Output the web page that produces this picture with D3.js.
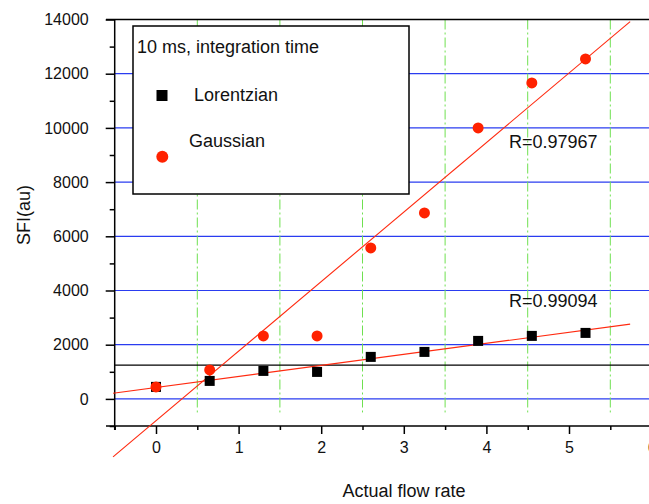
<!DOCTYPE html>
<html><head><meta charset="utf-8">
<script src="https://cdn.jsdelivr.net/npm/d3@7"></script>
<style>html,body{margin:0;padding:0;background:#fff;}svg{display:block;font-family:"Liberation Sans",Arial,sans-serif;}</style>
</head><body><svg id="c" width="649" height="504"></svg>
<script>
const flowRates = [0, 0.65, 1.3, 1.95, 2.6, 3.25, 3.9, 4.55, 5.2];
const lorentzian = [443, 664, 1033, 996, 1550, 1734, 2140, 2325, 2435];
const gaussian = [443, 1070, 2325, 2325, 5572, 6863, 10000, 11661, 12546];
const seriesNames = ["Lorentzian", "Gaussian"];
const rLabels = ["R=0.99094", "R=0.97967"];
const legendTitle = "10 ms, integration time";
const xTicks = [0, 1, 2, 3, 4, 5, 6];
const xMinorTicks = [-0.5, 0.5, 1.5, 2.5, 3.5, 4.5, 5.5];
const yTicks = [0, 2000, 4000, 6000, 8000, 10000, 12000, 14000];
const yMinorTicks = [-1000, 1000, 3000, 5000, 7000, 9000, 11000, 13000];
const refLine = 1250;
const fitRange = [-0.52, 5.74];

const svg = d3.select("#c");
const x = d3.scaleLinear().domain([-0.5, 6]).range([114.7, 651.6]);
const y = d3.scaleLinear().domain([-1000, 14000]).range([426, 19.5]);

// horizontal blue gridlines
svg.append("g").selectAll("line").data(yTicks.filter(d => d < 14000)).join("line")
  .attr("x1", x(-0.5)).attr("x2", 649).attr("y1", d => y(d)).attr("y2", d => y(d))
  .attr("stroke", "#2a3cf0").attr("stroke-width", 1.2);
// green dashed vertical gridlines
svg.append("g").selectAll("line").data(xMinorTicks.filter(d => d > 0)).join("line")
  .attr("x1", d => x(d)).attr("x2", d => x(d)).attr("y1", y(14000)).attr("y2", y(-500))
  .attr("stroke", "#6fe050").attr("stroke-width", 1).attr("stroke-dasharray", "10,3,2,3");
// black reference line
svg.append("line").attr("x1", x(-0.5)).attr("x2", 649).attr("y1", y(refLine)).attr("y2", y(refLine))
  .attr("stroke", "#000").attr("stroke-width", 1.2);
// top frame line
svg.append("line").attr("x1", 106).attr("x2", 649).attr("y1", y(14000)).attr("y2", y(14000))
  .attr("stroke", "#000").attr("stroke-width", 1.5);

// axes
const yAxis = svg.append("g").attr("transform", `translate(${x(-0.5)},0)`)
  .call(d3.axisLeft(y).tickValues(yTicks).tickSize(9).tickPadding(17).tickFormat(d3.format("d")));
svg.append("g").attr("transform", `translate(${x(-0.5)},0)`)
  .call(d3.axisLeft(y).tickValues(yMinorTicks).tickSize(5).tickFormat(""));
const xAxis = svg.append("g").attr("transform", `translate(0,${y(-1000)})`)
  .call(d3.axisBottom(x).tickValues(xTicks).tickSize(8).tickPadding(8).tickFormat(d3.format("d")));
svg.append("g").attr("transform", `translate(0,${y(-1000)})`)
  .call(d3.axisBottom(x).tickValues(xMinorTicks).tickSize(4).tickFormat(""));
svg.selectAll(".domain").remove();
svg.selectAll(".tick line").attr("stroke", "#000").attr("stroke-width", 1.5);
svg.selectAll(".tick text").attr("font-size", 16).attr("fill", "#111").attr("font-family", "Liberation Sans, Arial, sans-serif");
svg.append("line").attr("x1", x(-0.5)).attr("x2", x(-0.5)).attr("y1", y(14000)).attr("y2", y(-1000) + 4)
  .attr("stroke", "#000").attr("stroke-width", 1.5);
svg.append("line").attr("x1", 106).attr("x2", 649).attr("y1", y(-1000)).attr("y2", y(-1000))
  .attr("stroke", "#000").attr("stroke-width", 1.5);

// linear fits computed from the data
function fit(xs, ys) {
  const mx = d3.mean(xs), my = d3.mean(ys);
  const sxy = d3.sum(xs, (v, i) => (v - mx) * (ys[i] - my));
  const sxx = d3.sum(xs, v => (v - mx) ** 2);
  const b = sxy / sxx; return { a: my - b * mx, b };
}
const line = d3.line().x(d => x(d[0])).y(d => y(d[1]));
[lorentzian, gaussian].forEach(ys => {
  const f = fit(flowRates, ys);
  svg.append("path").attr("d", line(fitRange.map(v => [v, f.a + f.b * v])))
    .attr("fill", "none").attr("stroke", "#ff2a10").attr("stroke-width", 1.1);
});

// points
svg.append("g").selectAll("rect").data(flowRates).join("rect")
  .attr("x", (d) => x(d) - 5).attr("y", (d, i) => y(lorentzian[i]) - 5)
  .attr("width", 10).attr("height", 10).attr("fill", "#000");
svg.append("g").selectAll("circle").data(flowRates).join("circle")
  .attr("cx", d => x(d)).attr("cy", (d, i) => y(gaussian[i])).attr("r", 5.5).attr("fill", "#ff2200");

// R labels
svg.append("text").attr("x", 509).attr("y", 307).attr("font-size", 18).attr("fill", "#111").text(rLabels[0]);
svg.append("text").attr("x", 509).attr("y", 148).attr("font-size", 18).attr("fill", "#111").text(rLabels[1]);

// legend
const lg = svg.append("g");
lg.append("rect").attr("x", 133).attr("y", 26).attr("width", 276).attr("height", 168)
  .attr("fill", "#fff").attr("stroke", "#000").attr("stroke-width", 1.5);
lg.append("text").attr("x", 137).attr("y", 52.5).attr("font-size", 18).attr("fill", "#111").text(legendTitle);
lg.append("rect").attr("x", 156.5).attr("y", 90).attr("width", 11).attr("height", 11).attr("fill", "#000");
lg.append("text").attr("x", 194).attr("y", 101).attr("font-size", 18).attr("fill", "#111").text(seriesNames[0]);
lg.append("circle").attr("cx", 162.3).attr("cy", 156.7).attr("r", 6).attr("fill", "#ff2200");
lg.append("text").attr("x", 189).attr("y", 146.7).attr("font-size", 18).attr("fill", "#111").text(seriesNames[1]);

// axis titles
svg.append("text").attr("x", 404).attr("y", 497).attr("text-anchor", "middle").attr("font-size", 18).attr("fill", "#111").text("Actual flow rate");
svg.append("text").attr("transform", "translate(30,215) rotate(-90)").attr("text-anchor", "middle").attr("font-size", 18).attr("fill", "#111").text("SFI(au)");
</script></body></html>
